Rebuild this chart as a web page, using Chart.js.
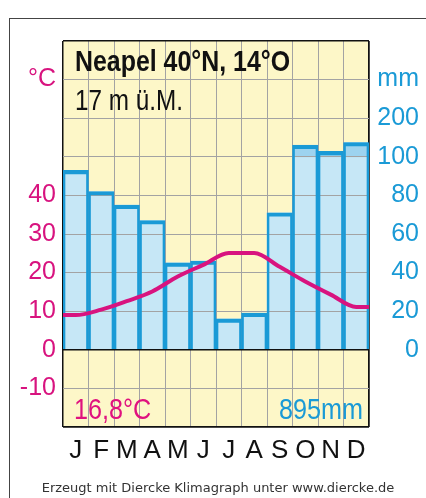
<!DOCTYPE html>
<html>
<head>
<meta charset="utf-8">
<script src="https://cdn.jsdelivr.net/npm/chart.js@4/dist/chart.umd.min.js"></script>
<style>
  body { margin: 0; background: #fff; }
  #wrap { position: relative; width: 426px; height: 498px; overflow: hidden; }
  #frame { position: absolute; left: 9px; top: 18px; width: 500px; height: 600px; border-left: 1px solid #444; border-top: 1px solid #444; }
  canvas { position: absolute; left: 0; top: 0; }
  .txt { position: absolute; font-family: 'Liberation Sans', sans-serif; font-size: 30px; line-height: 1; white-space: nowrap; transform-origin: left top; }
  #titel { left: 75px; top: 46px; font-weight: bold; color: #111; transform: scaleX(0.83); }
  #hoehe { left: 75px; top: 85px; color: #111; transform: scaleX(0.81); }
  #mittel { left: 74px; top: 394px; color: #e0127f; transform: scaleX(0.84); }
  #summe { right: 63px; top: 394px; color: #1a9ad6; transform: scaleX(0.84); transform-origin: right top; }
  #fuss { left: 0; width: 436px; text-align: center; top: 481px; font-family: 'DejaVu Sans', sans-serif; font-size: 13px; color: #333; }
</style>
</head>
<body>
<div id="wrap">
  <div id="frame"></div>
  <canvas id="klima" width="426" height="498"></canvas>
  <div class="txt" id="titel">Neapel 40°N, 14°O</div>
  <div class="txt" id="hoehe">17 m ü.M.</div>
  <div class="txt" id="mittel">16,8°C</div>
  <div class="txt" id="summe">895mm</div>
  <div class="txt" id="fuss">Erzeugt mit Diercke Klimagraph unter www.diercke.de</div>
</div>
<script>
const monate = ['J', 'F', 'M', 'A', 'M', 'J', 'J', 'A', 'S', 'O', 'N', 'D'];
// Temperatur in °C
const temperatur = [9.0, 10.4, 12.6, 15.1, 19.0, 22.0, 25.1, 25.1, 21.5, 17.7, 14.3, 11.1];
// Niederschlag in mm
const niederschlag = [93, 82, 75, 67, 45, 46, 16, 19, 71, 130, 114, 137];
// Beschriftung rechte Achse (Position auf der °C-Skala -> Text)
const mmTicks = { 0: '0', 10: '20', 20: '40', 30: '60', 40: '80', 50: '100', 60: '200', 70: 'mm' };
const cTicks = { '-10': '-10', 0: '0', 10: '10', 20: '20', 30: '30', 40: '40', 70: '°C' };

const magenta = '#d8137f';
const blau = '#1a9ad6';

// mm auf die Temperaturskala umrechnen (bis 100 mm: 20 mm = 10 °C, darüber 100 mm = 10 °C)
function mmZuSkala(mm) {
  return mm <= 100 ? mm / 2 : 50 + (mm - 100) / 10;
}

const balken = niederschlag.map((mm, i) => ({ x: i + 0.5, y: mmZuSkala(mm) }));
const balkenDunkel = niederschlag
  .map((mm, i) => ({ x: i + 0.5, y: [50, mmZuSkala(mm)] }))
  .filter((p, i) => niederschlag[i] > 100);
// Linie läuft flach bis an den Rand des Diagramms
const linie = [{ x: 0, y: temperatur[0] }]
  .concat(temperatur.map((t, i) => ({ x: i + 0.5, y: t })))
  .concat([{ x: 12, y: temperatur[11] }]);

const schrift = "'Liberation Sans', sans-serif";

function rand(c, werte) {
  return c.tick && werte.includes(c.tick.value);
}

const hintergrund = {
  id: 'hintergrund',
  beforeDatasetsDraw(chart) {
    const a = chart.chartArea;
    chart.ctx.save();
    chart.ctx.fillStyle = '#fdf7c8';
    chart.ctx.fillRect(a.left, a.top, a.right - a.left, a.bottom - a.top);
    chart.ctx.restore();
  },
  // Gitter noch einmal über die Flächen, aber unter Umriss und Linie
  beforeDatasetDraw(chart, args) {
    if (args.index === 2) {
      chart.scales.x.drawGrid(chart.chartArea);
      chart.scales.y.drawGrid(chart.chartArea);
    }
  }
};

new Chart(document.getElementById('klima'), {
  data: {
    datasets: [
      {
        type: 'bar',
        data: balken,
        backgroundColor: '#c6e7f6',
        borderWidth: 0,
        grouped: false,
        barPercentage: 1,
        categoryPercentage: 1,
        order: 5
      },
      {
        type: 'bar',
        data: balkenDunkel,
        backgroundColor: '#9dd3ef',
        borderWidth: 0,
        grouped: false,
        barPercentage: 1,
        categoryPercentage: 1,
        order: 4
      },
      {
        type: 'bar',
        data: balken,
        backgroundColor: 'rgba(0,0,0,0)',
        borderColor: blau,
        borderWidth: { top: 3.5, left: 2, right: 2, bottom: 0 },
        grouped: false,
        barPercentage: 1,
        categoryPercentage: 1,
        order: 2
      },
      {
        type: 'line',
        data: linie,
        borderColor: magenta,
        borderWidth: 4,
        pointRadius: 0,
        cubicInterpolationMode: 'monotone',
        order: 1
      }
    ]
  },
  options: {
    responsive: false,
    animation: false,
    layout: { padding: { top: 41, left: 0, right: 7, bottom: 0 } },
    plugins: { legend: { display: false }, tooltip: { enabled: false } },
    scales: {
      x: {
        type: 'linear',
        min: 0,
        max: 12,
        offset: false,
        position: 'bottom',
        afterFit: (s) => { s.height = 0; },
        ticks: { display: false, stepSize: 1 },
        border: { display: false },
        grid: {
          offset: false,
          drawTicks: false,
          color: (c) => rand(c, [0, 12]) ? '#111' : '#a3a3a3',
          lineWidth: (c) => rand(c, [0, 12]) ? 1.5 : 1
        }
      },
      monat: {
        type: 'category',
        labels: monate,
        position: 'bottom',
        offset: true,
        afterFit: (s) => { s.height = 71; },
        grid: { display: false, drawTicks: false },
        border: { display: false },
        ticks: { color: '#111', font: { family: schrift, size: 26 }, padding: 8, autoSkip: false, maxRotation: 0 }
      },
      y: {
        position: 'left',
        min: -20,
        max: 80,
        afterFit: (s) => { s.width = 63; },
        border: { display: false },
        grid: {
          drawTicks: false,
          color: (c) => rand(c, [80, 0, -20]) ? '#111' : '#a3a3a3',
          lineWidth: (c) => rand(c, [80, 0, -20]) ? 1.5 : 1
        },
        ticks: {
          stepSize: 10,
          autoSkip: false,
          padding: 7,
          color: magenta,
          font: { family: schrift, size: 25 },
          callback: (v) => cTicks[v] || ''
        }
      },
      y2: {
        position: 'right',
        min: -20,
        max: 80,
        afterFit: (s) => { s.width = 50; },
        border: { display: false },
        grid: { display: false, drawTicks: false },
        ticks: {
          stepSize: 10,
          autoSkip: false,
          padding: 4,
          crossAlign: 'far',
          color: blau,
          font: { family: schrift, size: 25 },
          callback: (v) => mmTicks[v] || ''
        }
      }
    }
  },
  plugins: [hintergrund]
});
</script>
</body>
</html>
